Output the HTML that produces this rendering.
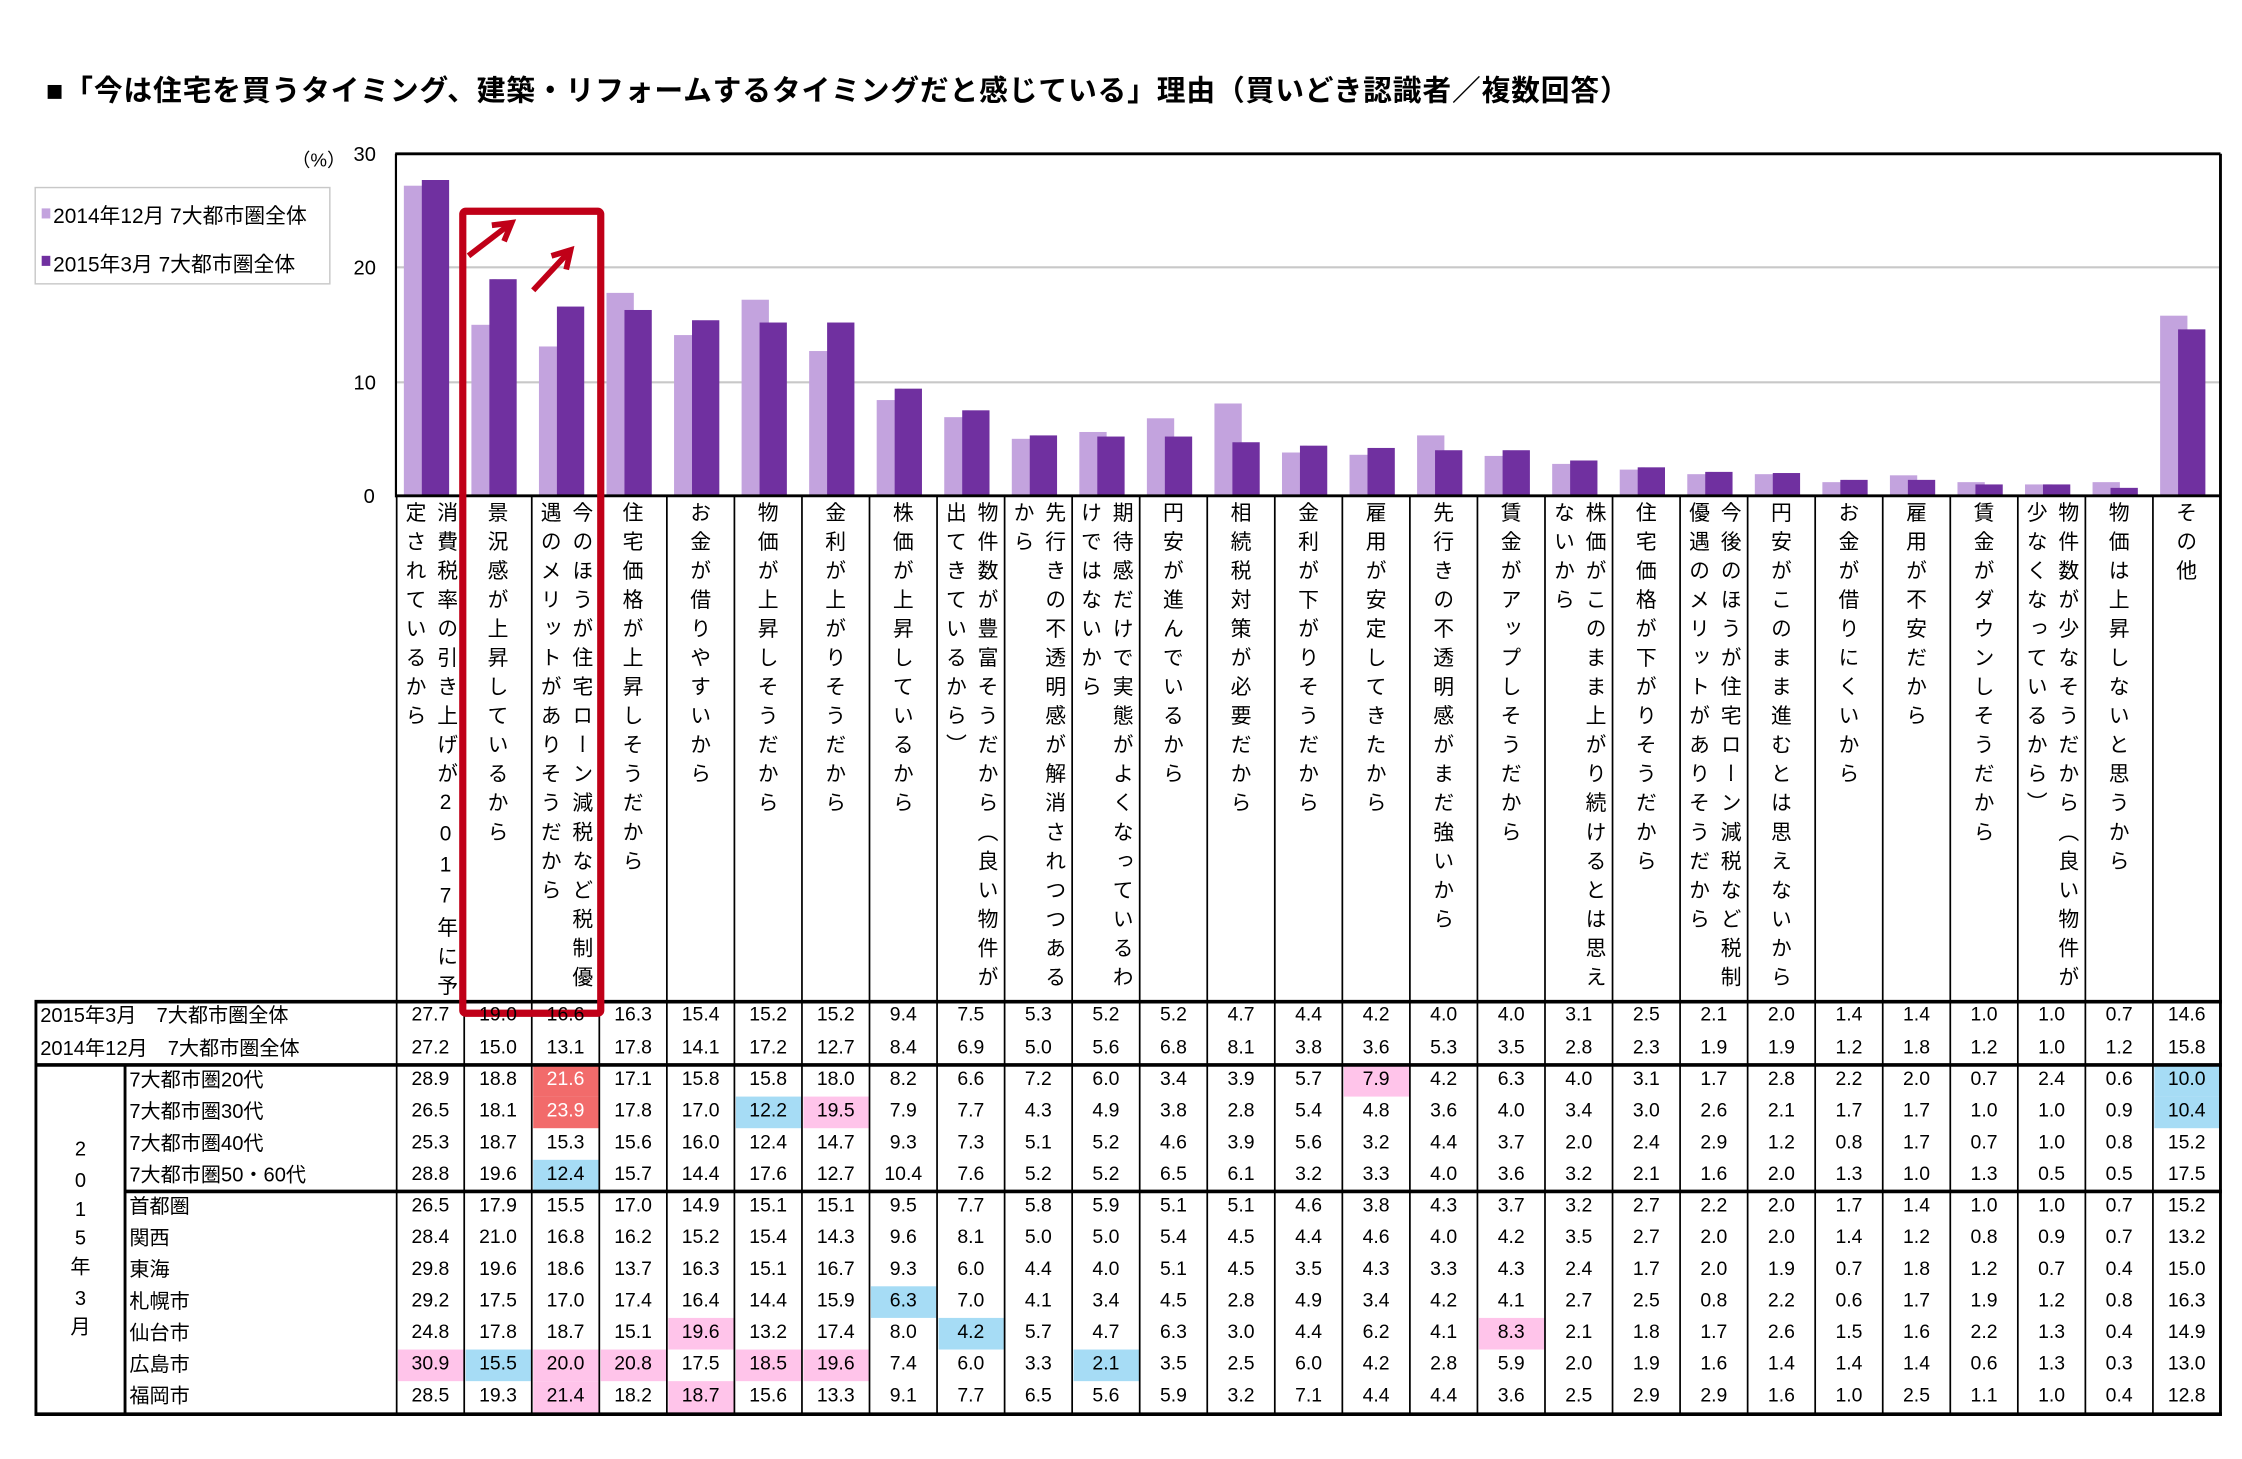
<!DOCTYPE html>
<html><head><meta charset="utf-8">
<style>
html,body{margin:0;padding:0;background:#fff;}
#root{position:relative;width:1560px;height:1015px;transform:scale(1.4372);transform-origin:0 0;font-family:"Liberation Sans","Noto Sans CJK JP",sans-serif;color:#000;}
.a{position:absolute;}
.vt{position:absolute;writing-mode:vertical-rl;text-orientation:upright;font-size:14.5px;letter-spacing:5.7px;line-height:16px;white-space:nowrap;}
.c{position:absolute;width:47px;text-align:center;font-size:13.5px;line-height:20px;height:22px;}
.rl{position:absolute;font-size:14px;line-height:20px;white-space:nowrap;}
</style></head><body>
<div id="root">
<div class="a" style="left:32px;top:47px;font-size:20px;font-weight:bold;white-space:nowrap;letter-spacing:0.6px;">■「今は住宅を買うタイミング、建築・リフォームするタイミングだと感じている」理由（買いどき認識者／複数回答）</div>
<div class="a" style="left:203px;top:101px;font-size:13px;">（%）</div>
<div class="a" style="left:246px;top:99px;font-size:14px;">30</div>
<div class="a" style="left:246px;top:178px;font-size:14px;">20</div>
<div class="a" style="left:246px;top:258px;font-size:14px;">10</div>
<div class="a" style="left:253px;top:337px;font-size:14px;">0</div>
<div class="a" style="left:24px;top:130px;width:204px;height:66px;border:1.5px solid #c8c8c8;"></div>
<div class="a" style="left:29px;top:145px;width:6px;height:7px;background:#c3a3de;"></div>
<div class="a" style="left:37px;top:139px;font-size:14.5px;white-space:nowrap;">2014年12月 7大都市圏全体</div>
<div class="a" style="left:29px;top:178px;width:6px;height:7px;background:#7030a0;"></div>
<div class="a" style="left:37px;top:173px;font-size:14.5px;white-space:nowrap;">2015年3月 7大都市圏全体</div>
<svg id="sv" class="a" style="left:0;top:0" width="1560" height="1015"></svg>
<div id="tbl"></div>
</div>
<script>
var d15=[27.7,19.0,16.6,16.3,15.4,15.2,15.2,9.4,7.5,5.3,5.2,5.2,4.7,4.4,4.2,4.0,4.0,3.1,2.5,2.1,2.0,1.4,1.4,1.0,1.0,0.7,14.6];
var d14=[27.2,15.0,13.1,17.8,14.1,17.2,12.7,8.4,6.9,5.0,5.6,6.8,8.1,3.8,3.6,5.3,3.5,2.8,2.3,1.9,1.9,1.2,1.8,1.2,1.0,1.2,15.8];
var labels=[["消費税率の引き上げが2017年に予","定されているから"],["景況感が上昇しているから"],["今のほうが住宅ローン減税など税制優","遇のメリットがありそうだから"],["住宅価格が上昇しそうだから"],["お金が借りやすいから"],["物価が上昇しそうだから"],["金利が上がりそうだから"],["株価が上昇しているから"],["物件数が豊富そうだから（良い物件が","出てきているから）"],["先行きの不透明感が解消されつつある","から"],["期待感だけで実態がよくなっているわ","けではないから"],["円安が進んでいるから"],["相続税対策が必要だから"],["金利が下がりそうだから"],["雇用が安定してきたから"],["先行きの不透明感がまだ強いから"],["賃金がアップしそうだから"],["株価がこのまま上がり続けるとは思え","ないから"],["住宅価格が下がりそうだから"],["今後のほうが住宅ローン減税など税制","優遇のメリットがありそうだから"],["円安がこのまま進むとは思えないから"],["お金が借りにくいから"],["雇用が不安だから"],["賃金がダウンしそうだから"],["物件数が少なそうだから（良い物件が","少なくなっているから）"],["物価は上昇しないと思うから"],["その他"]];
var rows=[
["7大都市圏20代","28.9 18.8 21.6 17.1 15.8 15.8 18.0 8.2 6.6 7.2 6.0 3.4 3.9 5.7 7.9 4.2 6.3 4.0 3.1 1.7 2.8 2.2 2.0 0.7 2.4 0.6 10.0"],
["7大都市圏30代","26.5 18.1 23.9 17.8 17.0 12.2 19.5 7.9 7.7 4.3 4.9 3.8 2.8 5.4 4.8 3.6 4.0 3.4 3.0 2.6 2.1 1.7 1.7 1.0 1.0 0.9 10.4"],
["7大都市圏40代","25.3 18.7 15.3 15.6 16.0 12.4 14.7 9.3 7.3 5.1 5.2 4.6 3.9 5.6 3.2 4.4 3.7 2.0 2.4 2.9 1.2 0.8 1.7 0.7 1.0 0.8 15.2"],
["7大都市圏50・60代","28.8 19.6 12.4 15.7 14.4 17.6 12.7 10.4 7.6 5.2 5.2 6.5 6.1 3.2 3.3 4.0 3.6 3.2 2.1 1.6 2.0 1.3 1.0 1.3 0.5 0.5 17.5"],
["首都圏","26.5 17.9 15.5 17.0 14.9 15.1 15.1 9.5 7.7 5.8 5.9 5.1 5.1 4.6 3.8 4.3 3.7 3.2 2.7 2.2 2.0 1.7 1.4 1.0 1.0 0.7 15.2"],
["関西","28.4 21.0 16.8 16.2 15.2 15.4 14.3 9.6 8.1 5.0 5.0 5.4 4.5 4.4 4.6 4.0 4.2 3.5 2.7 2.0 2.0 1.4 1.2 0.8 0.9 0.7 13.2"],
["東海","29.8 19.6 18.6 13.7 16.3 15.1 16.7 9.3 6.0 4.4 4.0 5.1 4.5 3.5 4.3 3.3 4.3 2.4 1.7 2.0 1.9 0.7 1.8 1.2 0.7 0.4 15.0"],
["札幌市","29.2 17.5 17.0 17.4 16.4 14.4 15.9 6.3 7.0 4.1 3.4 4.5 2.8 4.9 3.4 4.2 4.1 2.7 2.5 0.8 2.2 0.6 1.7 1.9 1.2 0.8 16.3"],
["仙台市","24.8 17.8 18.7 15.1 19.6 13.2 17.4 8.0 4.2 5.7 4.7 6.3 3.0 4.4 6.2 4.1 8.3 2.1 1.8 1.7 2.6 1.5 1.6 2.2 1.3 0.4 14.9"],
["広島市","30.9 15.5 20.0 20.8 17.5 18.5 19.6 7.4 6.0 3.3 2.1 3.5 2.5 6.0 4.2 2.8 5.9 2.0 1.9 1.6 1.4 1.4 1.4 0.6 1.3 0.3 13.0"],
["福岡市","28.5 19.3 21.4 18.2 18.7 15.6 13.3 9.1 7.7 6.5 5.6 5.9 3.2 7.1 4.4 4.4 3.6 2.5 2.9 2.9 1.6 1.0 2.5 1.1 1.0 0.4 12.8"]];
var hl={"0,2":"r","1,2":"r","1,6":"p","0,14":"p","8,4":"p","8,16":"p","9,0":"p","9,2":"p","9,3":"p","9,5":"p","9,6":"p","10,2":"p","10,4":"p",
"1,5":"b","3,2":"b","7,7":"b","8,8":"b","9,1":"b","9,10":"b","0,26":"b","1,26":"b"};
var X0=276,W=47,Y0=345,S=238/30;
var s='';
s+='<line x1="275" y1="186" x2="1545" y2="186" stroke="#c8c8c8" stroke-width="1.5"/>';
s+='<line x1="275" y1="266" x2="1545" y2="266" stroke="#c8c8c8" stroke-width="1.5"/>';
for(var i=0;i<27;i++){var x=X0+i*W;
 var h1=d14[i]*S,h2=d15[i]*S;
 s+='<rect x="'+(x+5)+'" y="'+(Y0-h1)+'" width="19" height="'+h1+'" fill="#c3a3de"/>';
 s+='<rect x="'+(x+19.5)+'" y="'+(Y0-h2)+'" width="3" height="'+h2+'" fill="#d8d0e0"/>';
 s+='<rect x="'+(x+17.5)+'" y="'+(Y0-h2)+'" width="19" height="'+h2+'" fill="#7030a0"/>';
}
s+='<line x1="275" y1="107" x2="1545" y2="107" stroke="#000" stroke-width="2"/>';
s+='<line x1="275.5" y1="107" x2="275.5" y2="346" stroke="#000" stroke-width="1.5"/>';
s+='<line x1="1545" y1="107" x2="1545" y2="985" stroke="#000" stroke-width="2"/>';
s+='<line x1="275" y1="345" x2="1545" y2="345" stroke="#000" stroke-width="2"/>';
for(var k=0;k<=27;k++){var x=X0+k*W;s+='<line x1="'+x+'" y1="345" x2="'+x+'" y2="984" stroke="#000" stroke-width="1.2"/>';}
var ry=[752,774,796,818,840,862,884,906,928,950,972];
var bg='';
for(var key in hl){var p=key.split(',');var r=+p[0],c=+p[1];var col=hl[key]=='r'?'#f26b6b':hl[key]=='p'?'#ffc4ea':'#a6dcf5';
 bg+='<rect x="'+(X0+c*W+1)+'" y="'+(ry[r]-11)+'" width="'+(W-1.5)+'" height="22" fill="'+col+'"/>';}
s=bg+s;
s+='<line x1="24" y1="697" x2="1546" y2="697" stroke="#000" stroke-width="2.5"/>';
s+='<line x1="24" y1="741" x2="1546" y2="741" stroke="#000" stroke-width="2.5"/>';
s+='<line x1="87" y1="829" x2="1546" y2="829" stroke="#000" stroke-width="2.5"/>';
s+='<line x1="24" y1="984" x2="1546" y2="984" stroke="#000" stroke-width="2.5"/>';
s+='<line x1="25" y1="697" x2="25" y2="984" stroke="#000" stroke-width="2"/>';
s+='<line x1="87" y1="741" x2="87" y2="984" stroke="#000" stroke-width="2"/>';
s+='<rect x="322" y="147" width="96" height="558" fill="none" stroke="#c00018" stroke-width="5" rx="2"/>';
function arrow(x1,y1,x2,y2){var dx=x2-x1,dy=y2-y1,L=Math.sqrt(dx*dx+dy*dy),ux=dx/L,uy=dy/L,px=-uy,py=ux;var b=12,w=7;
 return '<line x1="'+x1+'" y1="'+y1+'" x2="'+(x2-ux*3)+'" y2="'+(y2-uy*3)+'" stroke="#c00018" stroke-width="4"/>'+
 '<polyline points="'+(x2-ux*b+px*w)+','+(y2-uy*b+py*w)+' '+x2+','+y2+' '+(x2-ux*b-px*w)+','+(y2-uy*b-py*w)+'" fill="none" stroke="#c00018" stroke-width="4" stroke-linejoin="miter"/>';}
s+=arrow(326,178,356,155)+arrow(371,202,397,174);
document.getElementById('sv').innerHTML=s;
var t='';
for(var i=0;i<27;i++){var x=X0+i*W;var L=labels[i];
 if(L.length==1){t+='<div class="vt" style="left:'+(x+14)+'px;top:349px">'+L[0]+'</div>';}
 else{t+='<div class="vt" style="left:'+(x+26)+'px;top:349px">'+L[0]+'</div>';t+='<div class="vt" style="left:'+(x+4)+'px;top:349px">'+L[1]+'</div>';}
}
function rowcells(vals,yc,red){var o='';for(var c=0;c<27;c++){var st='';if(red&&red[c])st='color:#fff;';o+='<div class="c" style="left:'+(X0+c*W)+'px;top:'+(yc-11)+'px;'+st+'">'+vals[c]+'</div>';}return o;}
t+='<div class="rl" style="left:28px;top:696px">2015年3月　7大都市圏全体</div>';
t+=rowcells(d15.map(function(v){return v.toFixed(1)}),707);
t+='<div class="rl" style="left:28px;top:719px">2014年12月　7大都市圏全体</div>';
t+=rowcells(d14.map(function(v){return v.toFixed(1)}),730);
for(var r=0;r<rows.length;r++){t+='<div class="rl" style="left:90px;top:'+(ry[r]-11)+'px">'+rows[r][0]+'</div>';
 var red={};for(var c=0;c<27;c++)if(hl[r+','+c]=='r')red[c]=1;
 t+=rowcells(rows[r][1].split(' '),ry[r],red);}
var g=['2','0','1','5','年','3','月'];var gy=[800,822,842,862,882,904,924];
for(var i=0;i<7;i++)t+='<div class="rl" style="left:48px;width:16px;text-align:center;top:'+(gy[i]-11)+'px">'+g[i]+'</div>';
document.getElementById('tbl').innerHTML=t;
</script>
</body></html>
